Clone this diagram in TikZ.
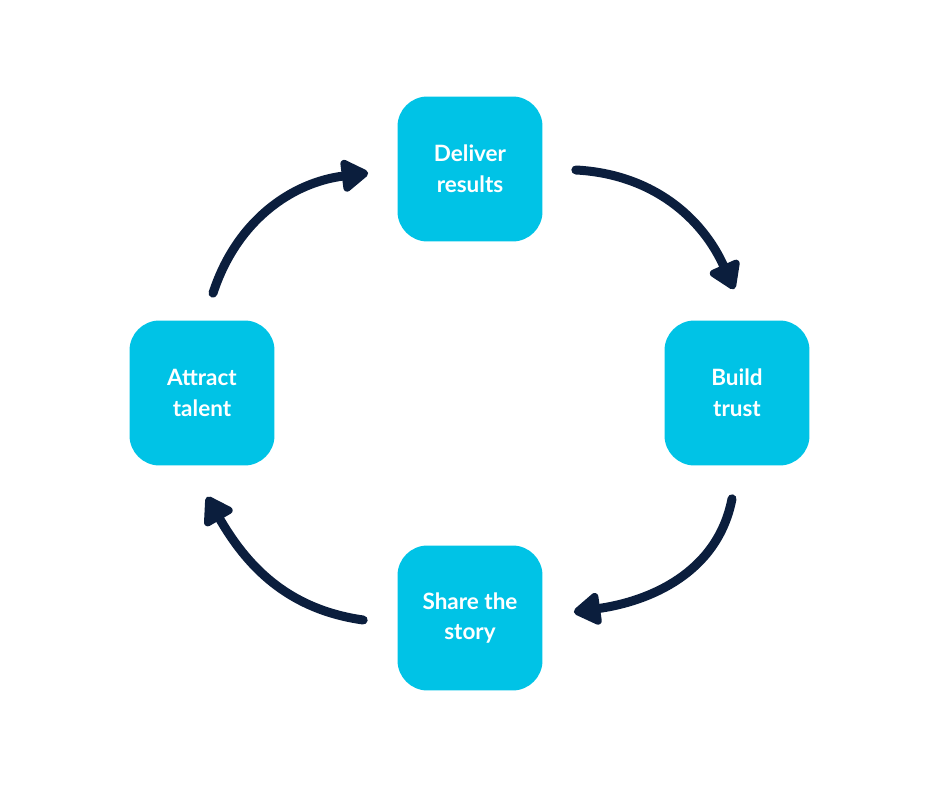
\documentclass[tikz,border=0pt]{standalone}
\usepackage{fontspec}
\setmainfont{Lato}
\usetikzlibrary{arrows.meta,calc}
\definecolor{boxcyan}{HTML}{00C3E6}
\definecolor{arrownavy}{HTML}{0B1E3D}

\begin{document}
\begin{tikzpicture}[x=0.02cm,y=0.02cm,
  every path/.style={>={Triangle[round,length=0.6cm,width=0.72cm]}},
  stage/.style={fill=boxcyan,rounded corners=0.6cm,minimum width=2.9cm,minimum height=2.9cm,
    text=white,align=center,font=\bfseries\fontsize{12.8}{17.6}\selectfont},
  cycle/.style={->,draw=arrownavy,line width=0.18cm,line cap=round,line join=round}]
\useasboundingbox (0,0) rectangle (940,788);
\node[stage]     (deliver) at (470,619) {Deliver\\results};
\node[stage]     (trust)   at (737,395) {Build\\trust};
\node[stage]     (share)   at (470,170) {Share the\\story};
\node[stage]     (attract) at (202,395) {Attract\\talent};
\draw[cycle]     ($(attract.north)+(11,27)$) to[out=72,in=187]   ($(deliver.west)+(-29,-4)$);
\draw[cycle]     ($(deliver.east)+(33,-1)$)  to[out=-3,in=114]   ($(trust.north)+(-3,31)$);
\draw[cycle]     ($(trust.south)+(-5,-33)$)  to[out=-101,in=8]   ($(share.east)+(31,6)$);
\draw[cycle]     ($(share.west)+(-34,-2)$)   to[out=172,in=-60]  ($(attract.south)+(5,-31)$);
\end{tikzpicture}
\end{document}
